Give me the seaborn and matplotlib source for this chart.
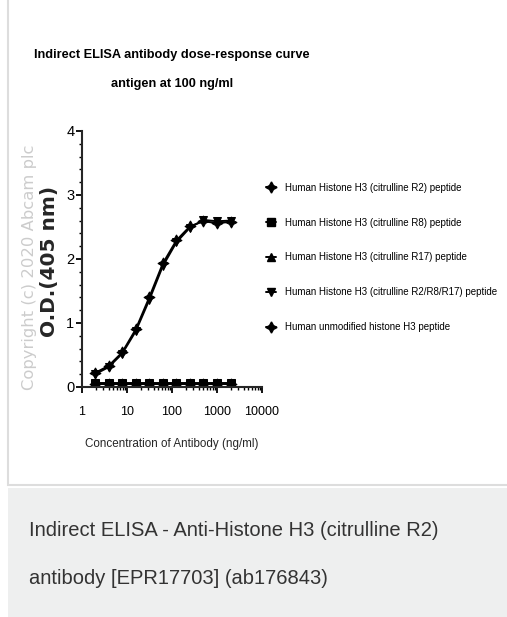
import matplotlib
matplotlib.use("Agg")
import matplotlib.pyplot as plt
import matplotlib.lines as mlines
import matplotlib.patches as mpatches
from matplotlib import font_manager
from matplotlib.ticker import LogLocator, MultipleLocator, NullFormatter
import pandas as pd
import seaborn as sns

# concentration of antibody (ng/ml), 2-fold dilutions
conc = [1.95, 3.9, 7.8, 15.6, 31.25, 62.5, 125, 250, 500, 1000, 2000]

# O.D. readings per peptide
od_r2 = [0.22, 0.33, 0.54, 0.90, 1.40, 1.93, 2.29, 2.51, 2.59, 2.56, 2.58]
od_r8 = [0.06, 0.06, 0.06, 0.06, 0.06, 0.06, 0.06, 0.06, 0.06, 0.06, 0.06]
od_r17 = [0.05, 0.05, 0.05, 0.05, 0.05, 0.05, 0.05, 0.05, 0.05, 0.05, 0.05]
od_r2r8r17 = [0.20, 0.31, 0.52, 0.87, 1.36, 1.89, 2.26, 2.49, 2.61, 2.59, 2.60]
od_unmod = [0.05, 0.05, 0.05, 0.05, 0.05, 0.05, 0.05, 0.05, 0.05, 0.05, 0.05]

labels = [
    "Human Histone H3 (citrulline R2) peptide",
    "Human Histone H3 (citrulline R8) peptide",
    "Human Histone H3 (citrulline R17) peptide",
    "Human Histone H3 (citrulline R2/R8/R17) peptide",
    "Human unmodified histone H3 peptide",
]
series = [od_r2, od_r8, od_r17, od_r2r8r17, od_unmod]
markers = [(4, 1, 0), "s", "^", "v", (4, 1, 0)]

installed = {f.name for f in font_manager.fontManager.ttflist}
narrow = next((n for n in ["Liberation Sans Narrow", "Arial Narrow", "Liberation Sans"]
               if n in installed), "DejaVu Sans")

sns.set_style("ticks")
plt.rcParams["font.family"] = [narrow, "DejaVu Sans"]

fig = plt.figure(figsize=(5.07, 6.17), dpi=100)
renderer = fig.canvas.get_renderer()


def fit(txt, target, vertical=False):
    # scale the font so the text spans the same pixels as in the reference
    bb = txt.get_window_extent(renderer)
    size = bb.height if vertical else bb.width
    txt.set_fontsize(txt.get_fontsize() * target / size)
    return txt.get_fontsize()


# card background and caption strip
fig.patches.append(mpatches.Rectangle((8 / 507, 132 / 617), 1, 1, transform=fig.transFigure,
                                      facecolor="white", edgecolor="#dddddd", linewidth=1.5,
                                      zorder=-5))
fig.patches.append(mpatches.Rectangle((8 / 507, 0), 1, 129 / 617, transform=fig.transFigure,
                                      facecolor="#eeefef", edgecolor="none", zorder=-5))

ax = fig.add_axes([82 / 507, 1 - 387 / 617, 180 / 507, 256 / 617])
ax.set_facecolor("none")

handles = []
for vals, lab, mk in zip(series, labels, markers):
    df = pd.DataFrame({"conc": conc, "od": vals})
    ms = 8 if isinstance(mk, tuple) else 6
    sns.lineplot(data=df, x="conc", y="od", ax=ax, color="black", linewidth=1.4,
                 marker=mk, markersize=ms, markeredgecolor="black", legend=False)
    handles.append(mlines.Line2D([], [], color="black", linewidth=1.4, marker=mk,
                                 markersize=ms, label=lab))

ax.set_xscale("log")
ax.set_xlim(1, 10000)
ax.set_ylim(0, 4)
ax.set_xticks([1, 10, 100, 1000, 10000])
ax.set_xticklabels(["1", "10", "100", "1000", "10000"])
ax.xaxis.set_minor_locator(LogLocator(base=10, subs=range(2, 10), numticks=20))
ax.xaxis.set_minor_formatter(NullFormatter())
ax.set_yticks([0, 1, 2, 3, 4])
ax.yaxis.set_minor_locator(MultipleLocator(0.2))
sns.despine(ax=ax)
for sp in ("left", "bottom"):
    ax.spines[sp].set_linewidth(1.5)
ax.tick_params(which="major", length=4, width=1.3, colors="black")
ax.tick_params(which="minor", length=2.2, width=1, colors="black")
ax.tick_params(axis="x", which="major", labelsize=9, pad=10)
ax.tick_params(axis="y", which="major", labelsize=10.5, pad=1.5)

ax.set_xlabel("Concentration of Antibody (ng/ml)", fontsize=11)
fit(ax.xaxis.label, 172)
ax.xaxis.set_label_coords(0.5, -0.2)
ax.set_ylabel("O.D.(405 nm)", fontsize=11, fontweight="bold", family="DejaVu Sans")
fit(ax.yaxis.label, 150, vertical=True)
ax.yaxis.set_label_coords(-0.125, 0.49)

t1 = fig.text(172 / 507, 1 - 55 / 617, "Indirect ELISA antibody dose-response curve",
              ha="center", va="center", fontsize=12, fontweight="bold", color="black")
fit(t1, 275)
t2 = fig.text(172 / 507, 1 - 84 / 617, "antigen at 100 ng/ml",
              ha="center", va="center", fontsize=t1.get_fontsize(), fontweight="bold",
              color="black")

cp = fig.text(30 / 507, 1 - 267 / 617, "Copyright (c) 2020 Abcam plc", rotation=90,
              ha="center", va="center", fontsize=9, color="#cccccc", family="DejaVu Sans")
fit(cp, 245, vertical=True)

probe = fig.text(0, 0, labels[3], fontsize=9)
leg_size = fit(probe, 213)
probe.remove()
fig.legend(handles=handles, loc="upper left", bbox_to_anchor=(262 / 507, 1 - 179 / 617),
           frameon=False, fontsize=leg_size, handlelength=1.0, handletextpad=1.0,
           labelspacing=2.55, borderaxespad=0, labelcolor="black")

c1 = fig.text(29 / 507, 1 - 530 / 617, "Indirect ELISA - Anti-Histone H3 (citrulline R2)",
              ha="left", va="center", fontsize=11, color="#333333")
fit(c1, 409)
fig.text(29 / 507, 1 - 578 / 617, "antibody [EPR17703] (ab176843)",
         ha="left", va="center", fontsize=c1.get_fontsize(), color="#333333")

fig.savefig("out.png", dpi=100)
